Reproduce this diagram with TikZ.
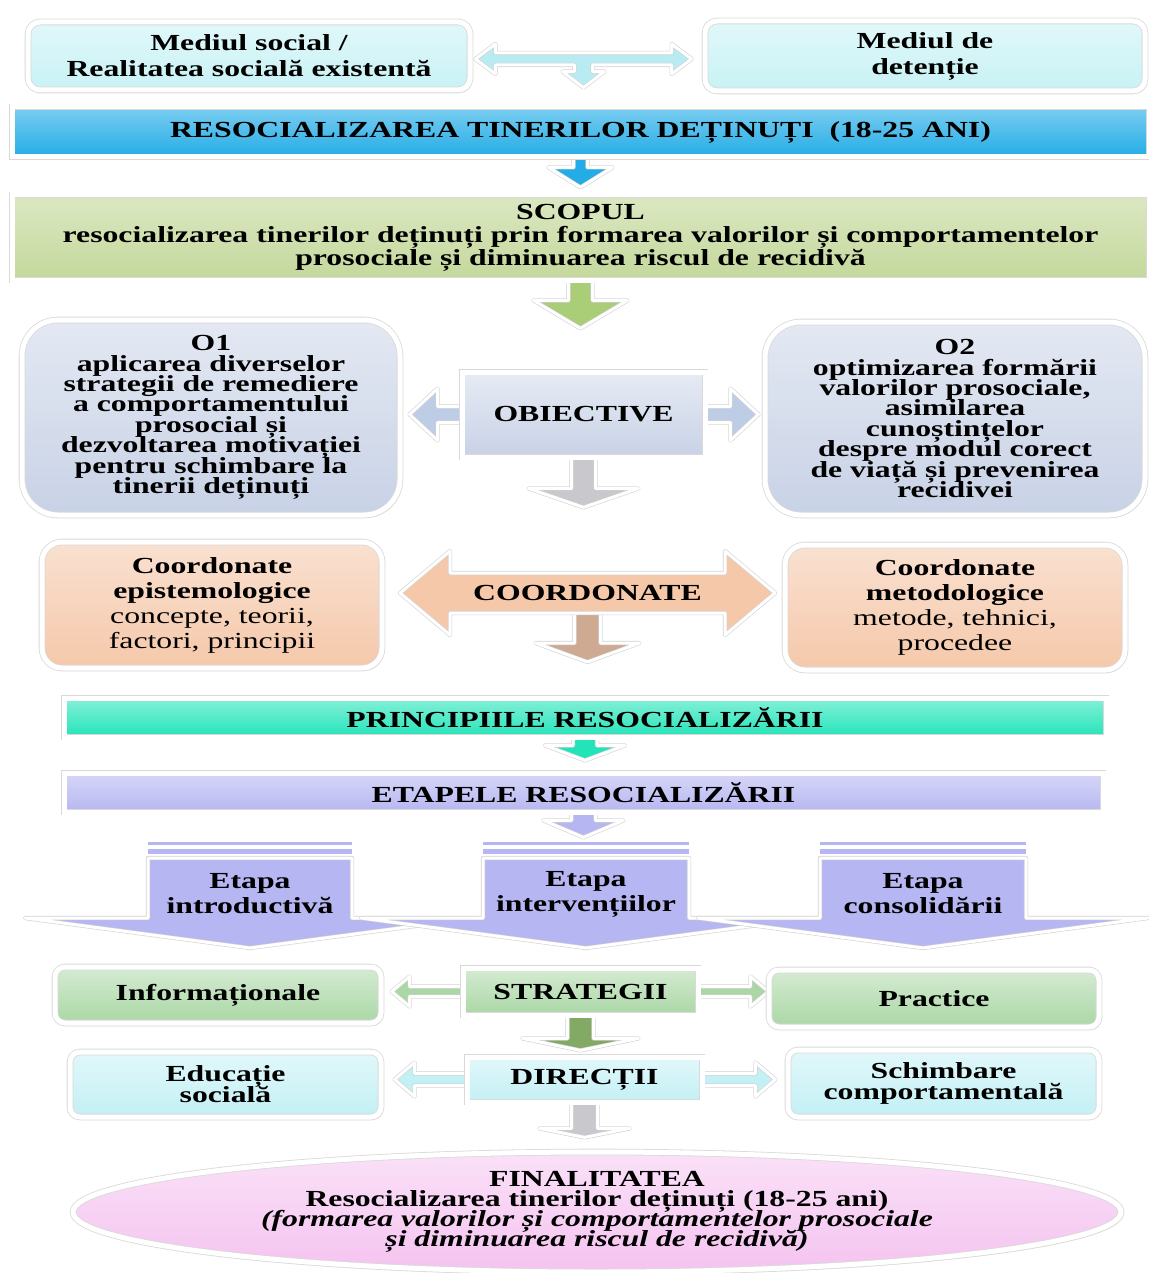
\documentclass[tikz,border=0pt]{standalone}
\usepackage{fontspec}
\setmainfont{Liberation Serif}[FakeStretch=1.38]
\usetikzlibrary{calc,shapes.geometric,shadows}
\pgfdeclarelayer{bg}
\pgfsetlayers{bg,main}
\setlength{\lineskiplimit}{-100pt}

\definecolor{mediucol}{RGB}{200,242,245}
\definecolor{mediuarr}{RGB}{185,236,242}
\definecolor{rescol}{RGB}{35,172,230}
\definecolor{scopcol}{RGB}{196,216,155}
\definecolor{scoparr}{RGB}{170,205,120}
\definecolor{obcol}{RGB}{200,210,230}
\definecolor{obarr}{RGB}{190,205,230}
\definecolor{grayarr}{RGB}{200,200,205}
\definecolor{coordcol}{RGB}{245,200,170}
\definecolor{coordarr}{RGB}{205,170,145}
\definecolor{pricol}{RGB}{35,228,185}
\definecolor{etacol}{RGB}{182,182,242}
\definecolor{stratcol}{RGB}{170,215,165}
\definecolor{stratarr}{RGB}{130,170,100}
\definecolor{dircol}{RGB}{195,240,245}
\definecolor{fincol}{RGB}{245,195,240}

% block arrows: [style](start)(tip)(shaft:head:length), in px
\def\blockdown[#1](#2)(#3)(#4:#5:#6){\path[#1] ($(#2)+(-#4,0)$) -- ($(#3)+(-#4,-#6)$) -- ($(#3)+(-#5,-#6)$) -- (#3) -- ($(#3)+(#5,-#6)$) -- ($(#3)+(#4,-#6)$) -- ($(#2)+(#4,0)$) -- cycle;}
\def\blockright[#1](#2)(#3)(#4:#5:#6){\path[#1] ($(#2)+(0,-#4)$) -- ($(#3)+(-#6,-#4)$) -- ($(#3)+(-#6,-#5)$) -- (#3) -- ($(#3)+(-#6,#5)$) -- ($(#3)+(-#6,#4)$) -- ($(#2)+(0,#4)$) -- cycle;}
\def\blockleft[#1](#2)(#3)(#4:#5:#6){\path[#1] ($(#2)+(0,-#4)$) -- ($(#3)+(#6,-#4)$) -- ($(#3)+(#6,-#5)$) -- (#3) -- ($(#3)+(#6,#5)$) -- ($(#3)+(#6,#4)$) -- ($(#2)+(0,#4)$) -- cycle;}
\def\blockboth[#1](#2)(#3)(#4:#5:#6){\path[#1] (#2) -- ($(#2)+(#6,-#5)$) -- ($(#2)+(#6,-#4)$) -- ($(#3)+(-#6,-#4)$) -- ($(#3)+(-#6,-#5)$) -- (#3) -- ($(#3)+(-#6,#5)$) -- ($(#3)+(-#6,#4)$) -- ($(#2)+(#6,#4)$) -- ($(#2)+(#6,#5)$) -- cycle;}

\begin{document}
\begin{tikzpicture}[x=0.5pt, y=-0.5pt,
		box/.style={draw=black!15, double=white, double distance=2.5pt, line width=0.4pt, inner sep=0pt, align=center,
			font=\bfseries\fontsize{11.5}{12.5}\selectfont, drop shadow={opacity=0.15, shadow xshift=1pt, shadow yshift=-1.5pt}},
		arrowst/.style={fill=#1, draw=black!18, double=white, double distance=1.5pt, line width=0.3pt, line join=round}]
		%%%%% START %%%%%
		\useasboundingbox (0,0) rectangle (1149,1273);
		
		\node[box, rounded corners=6pt, top color=mediucol!55!white, bottom color=mediucol, minimum width=221pt, minimum height=34pt,
			font=\bfseries\fontsize{11.5}{13}\selectfont] (soc) at (249,56) {Mediul social /\\Realitatea socială existentă};
		\node[box, rounded corners=6pt, top color=mediucol!55!white, bottom color=mediucol, minimum width=220pt, minimum height=35pt,
			font=\bfseries\fontsize{11.5}{13}\selectfont] (det) at (925,56) {Mediul de\\detenție};
		
		\node[box, top color=rescol!60!white, bottom color=rescol, minimum width=568.5pt, minimum height=25pt] (res) at (580.5,132) {RESOCIALIZAREA TINERILOR DEȚINUȚI\ \ (18-25 ANI)};
		\node[box, top color=scopcol!60!white, bottom color=scopcol, minimum width=568.5pt, minimum height=42.5pt,
			font=\bfseries\fontsize{11.5}{11.5}\selectfont] (scop) at (580.5,237.5) {SCOPUL\\resocializarea tinerilor deținuți prin formarea valorilor și comportamentelor\\prosociale și diminuarea riscul de recidivă};
		
		\node[box, rounded corners=18pt, top color=obcol!50!white, bottom color=obcol, minimum width=189pt, minimum height=97.5pt,
			font=\bfseries\fontsize{11.5}{10.2}\selectfont] (o1) at (211,417.5) {O1\\aplicarea diverselor\\strategii de remediere\\a comportamentului\\prosocial și\\dezvoltarea motivației\\pentru schimbare la\\tinerii deținuți};
		\node[box, rounded corners=18pt, top color=obcol!50!white, bottom color=obcol, minimum width=190pt, minimum height=96.5pt,
			font=\bfseries\fontsize{11.5}{10.2}\selectfont] (o2) at (955,418.5) {O2\\optimizarea formării\\valorilor prosociale,\\asimilarea\\cunoștințelor\\despre modul corect\\de viață și prevenirea\\recidivei};
		\node[box, top color=obcol!45!white, bottom color=obcol, minimum width=121.5pt, minimum height=42.5pt] (obj) at (583.5,414.5) {OBIECTIVE};
		
		\node[box, rounded corners=10pt, top color=coordcol!55!white, bottom color=coordcol, minimum width=170pt, minimum height=63pt] (ce) at (212,605)
			{Coordonate\\epistemologice\\\mdseries concepte, teorii,\\\mdseries factori, principii};
		\node[box, rounded corners=10pt, top color=coordcol!55!white, bottom color=coordcol, minimum width=170pt, minimum height=62.5pt] (cm) at (955,607.5)
			{Coordonate\\metodologice\\\mdseries metode, tehnici,\\\mdseries procedee};
		
		\node[box, top color=pricol!55!white, bottom color=pricol, minimum width=521pt, minimum height=19.5pt] (pri) at (585,717.5) {PRINCIPIILE RESOCIALIZĂRII};
		\node[box, top color=etacol!55!white, bottom color=etacol, minimum width=519.5pt, minimum height=19.5pt] (eta) at (583.5,792.5) {ETAPELE RESOCIALIZĂRII};
		
		% etape
		\foreach \xl/\xr/\nm/\txt in {148/352/et1/{Etapa\\introductivă}, 483/689/et2/{Etapa\\intervențiilor}, 820/1026/et3/{Etapa\\consolidării}}{
			\pgfmathsetmacro\xm{(\xl+\xr)/2}
			\path[arrowst=etacol] (\xl,858) -- (\xr,858) -- (\xr,918) -- (\xm+225,918) -- (\xm,948) -- (\xm-225,918) -- (\xl,918) -- cycle;
			\fill[etacol] (\xl,842) rectangle (\xr,845);
			\fill[etacol] (\xl,849) rectangle (\xr,854);
			\node[align=center, font=\bfseries\fontsize{11.5}{12.5}\selectfont] (\nm) at (\xm,894) {\txt};
		}
		
		\node[box, rounded corners=5pt, top color=stratcol!50!white, bottom color=stratcol, minimum width=163pt, minimum height=28pt] (inf) at (218,995) {Informaționale};
		\node[box, rounded corners=5pt, top color=stratcol!50!white, bottom color=stratcol, minimum width=165pt, minimum height=28.5pt] (prac) at (934,998.5) {Practice};
		\node[box, top color=stratcol!50!white, bottom color=stratcol, minimum width=117.5pt, minimum height=23.5pt] (strat) at (580.5,991.5) {STRATEGII};
		
		\node[box, rounded corners=5pt, top color=dircol!50!white, bottom color=dircol, minimum width=155.5pt, minimum height=32.5pt,
			font=\bfseries\fontsize{11.5}{10.5}\selectfont] (edu) at (225.5,1084.5) {Educație\\socială};
		\node[box, rounded corners=5pt, top color=dircol!50!white, bottom color=dircol, minimum width=155.5pt, minimum height=33.5pt,
			font=\bfseries\fontsize{11.5}{10.5}\selectfont] (sch) at (943.5,1083.5) {Schimbare\\comportamentală};
		\node[box, top color=dircol!50!white, bottom color=dircol, minimum width=117.5pt, minimum height=22.5pt] (dir) at (584.5,1079.5) {DIRECȚII};
		
		\node[box, ellipse, top color=fincol!50!white, bottom color=fincol, minimum width=524pt, minimum height=60pt,
			font=\bfseries\fontsize{11.5}{10}\selectfont] (fin) at (597,1212) {FINALITATEA\\Resocializarea tinerilor deținuți (18-25 ani)\\\itshape (formarea valorilor și comportamentelor prosociale\\\itshape și diminuarea riscul de recidivă)};
		
		% connectors
		\coordinate (tl) at ($(soc.east)+(5,3)$);
		\coordinate (tr) at ($(det.west)+(-13,3)$);
		\coordinate (tc) at ($(tl)!0.5!(tr)$);
		\coordinate (tb) at ($(tc |- res.north)+(0,-19)$);
		\coordinate (cl) at (400,593);
		\coordinate (cr) at (775,593);
		\coordinate (cc) at ($(cl)!0.5!(cr)$);
		\node[font=\bfseries\fontsize{11.5}{12.5}\selectfont] (coord) at (cc) {COORDONATE};
		
		\begin{pgfonlayer}{bg}
			\path[arrowst=mediuarr] (tl) -- ($(tl)+(20,-15)$) -- ($(tl)+(20,-6)$) -- ($(tr)+(-20,-6)$) -- ($(tr)+(-20,-15)$) -- (tr)
				-- ($(tr)+(-20,15)$) -- ($(tr)+(-20,6)$) -- ($(tc)+(9,6)$) -- ($(tb)+(9,-16)$) -- ($(tb)+(21,-16)$) -- (tb)
				-- ($(tb)+(-21,-16)$) -- ($(tb)+(-9,-16)$) -- ($(tc)+(-9,6)$) -- ($(tl)+(20,6)$) -- ($(tl)+(20,15)$) -- cycle;
			
			\coordinate (t1) at ($(res.south)+(0,30)$);
			\blockdown[arrowst=rescol](res.south)(t1)(7:32:20)
			\coordinate (t2) at ($(scop.south)+(0,48)$);
			\blockdown[arrowst=scoparr](scop.south)(t2)(12:47:28)
			
			\coordinate (t3) at ($(obj.west)+(-52,0)$);
			\blockleft[arrowst=obarr](obj.west)(t3)(8:26:28)
			\coordinate (t4) at ($(obj.east)+(53,0)$);
			\blockright[arrowst=obarr](obj.east)(t4)(8:26:28)
			\coordinate (t5) at ($(obj.south)+(0,50)$);
			\blockdown[arrowst=grayarr](obj.south)(t5)(12:55:19)
			
			\coordinate (t6) at ($(cc)+(0,69)$);
			\blockdown[arrowst=coordarr](cc)(t6)(13:52:19)
			\blockboth[arrowst=coordcol](cl)(cr)(20:42:50)
			
			\coordinate (t7) at ($(pri.south)+(0,23)$);
			\blockdown[arrowst=pricol](pri.south)(t7)(12:40:15)
			\coordinate (t8) at ($(eta.south)+(0,25)$);
			\blockdown[arrowst=etacol](eta.south)(t8)(12:40:17)
			
			\coordinate (t9) at ($(strat.west)+(-71,0)$);
			\blockleft[arrowst=stratcol](strat.west)(t9)(5:15:18)
			\coordinate (t10) at ($(strat.east)+(70,0)$);
			\blockright[arrowst=stratcol](strat.east)(t10)(5:15:18)
			\coordinate (t11) at ($(strat.south)+(0,35)$);
			\blockdown[arrowst=stratarr](strat.south)(t11)(13:58:12)
			
			\coordinate (t12) at ($(dir.west)+(-72,0)$);
			\blockleft[arrowst=dircol](dir.west)(t12)(6:17:20)
			\coordinate (t13) at ($(dir.east)+(73,0)$);
			\blockright[arrowst=dircol](dir.east)(t13)(6:17:20)
			\coordinate (t14) at ($(dir.south)+(0,35)$);
			\blockdown[arrowst=grayarr](dir.south)(t14)(13:45:9)
		\end{pgfonlayer}
		%%%%% END %%%%%
	\end{tikzpicture}
\end{document}
